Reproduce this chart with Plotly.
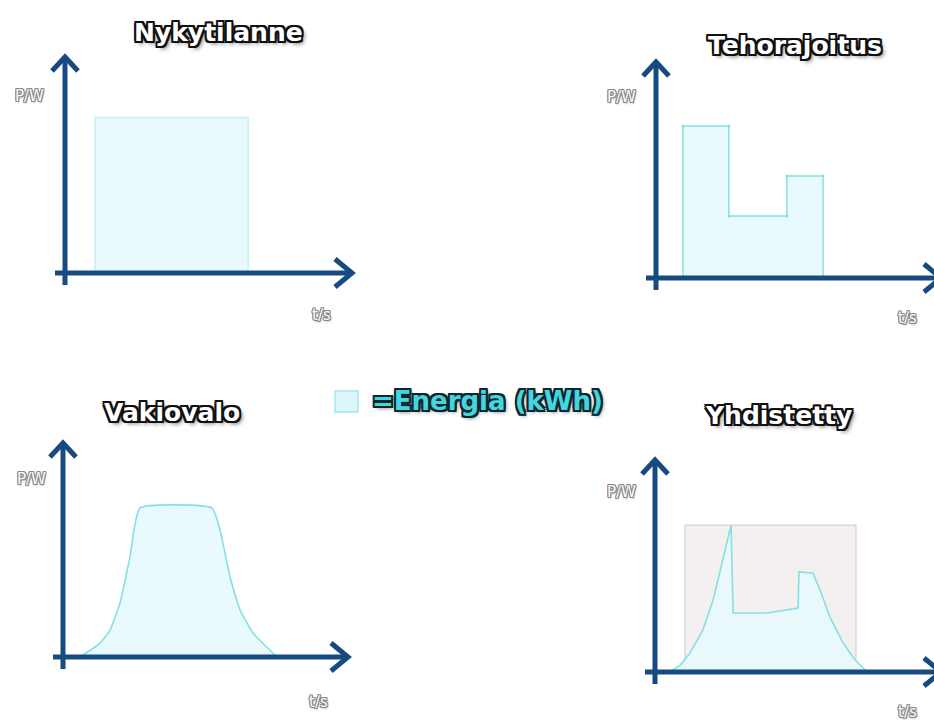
import plotly.graph_objects as go

W, H = 934, 724

# ---------------- data (t in arbitrary time units, P in arbitrary power units) ----------------
nyky_t = [1.05, 1.05, 6.38, 6.38]
nyky_p = [0, 7.2, 7.2, 0]

teho_t = [0.94, 0.94, 2.54, 2.54, 4.56, 4.56, 5.82, 5.82]
teho_p = [0, 7.04, 7.04, 2.87, 2.87, 4.72, 4.72, 0]

vakio_t = [0.6, 1.3, 1.65, 2.0, 2.35, 2.7, 5.23, 5.51, 5.86, 6.21, 6.67, 7.51]
vakio_p = [0, 0.65, 1.26, 2.52, 4.67, 6.96, 6.96, 5.93, 3.74, 2.2, 1.12, 0]

yhd_t = [0.53, 0.9, 1.23, 1.68, 2.04, 2.39, 2.67, 2.74, 3.93, 5.02, 5.05, 5.54, 5.79, 6.14, 6.6, 7.0, 7.44]
yhd_p = [0, 0.35, 0.9, 1.98, 3.4, 5.3, 6.93, 2.78, 2.78, 3.02, 4.72, 4.67, 3.87, 2.59, 1.37, 0.6, 0]

ref_t = [1.05, 1.05, 7.05, 7.05]
ref_p = [0, 6.93, 6.93, 0]

titles = ["Nykytilanne", "Tehorajoitus", "Vakiovalo", "Yhdistetty"]
y_label = "P/W"
x_label = "t/s"
legend_label = "=Energia (kWh)"

# ---------------- styling ----------------
AX_COL = "#164a80"
LINE_COL = "#86dfe4"
FILL_COL = "rgba(228,249,253,0.85)"
TITLE_FONT = "DejaVu Sans"

# panels: origin px (ox, oy), x-arrow tip px, y-arrow tip px, x range max
panels = [
    dict(ox=65, oy=273, xt=352, yt=57, xmax=10.0),
    dict(ox=656, oy=278, xt=941, yt=62, xmax=(W - 656) / 28.7),
    dict(ox=63, oy=657, xt=348, yt=443, xmax=10.0),
    dict(ox=655, oy=672, xt=941, yt=460, xmax=(W - 655) / 28.5),
]

def px(x):
    return x / W

def py(y):
    return 1 - y / H

fig = go.Figure()
layout_axes = {}
for i, p in enumerate(panels, start=1):
    right = min(p["xt"], W)
    xa = dict(domain=[px(p["ox"]), px(right)], range=[0, p["xmax"]],
              visible=False, fixedrange=True, anchor=f"y{i}")
    ya = dict(domain=[py(p["oy"]), py(p["yt"])], range=[0, 10],
              visible=False, fixedrange=True, anchor=f"x{i}")
    layout_axes["xaxis" if i == 1 else f"xaxis{i}"] = xa
    layout_axes["yaxis" if i == 1 else f"yaxis{i}"] = ya

def ax(i):
    return ("x" if i == 1 else f"x{i}"), ("y" if i == 1 else f"y{i}")

# panel 1
x, y = ax(1)
fig.add_trace(go.Scatter(x=nyky_t, y=nyky_p, xaxis=x, yaxis=y, mode="lines",
                         line=dict(color="#c4eff4", width=1.5), fill="toself",
                         fillcolor=FILL_COL, showlegend=False, hoverinfo="skip"))
# panel 2
x, y = ax(2)
fig.add_trace(go.Scatter(x=teho_t, y=teho_p, xaxis=x, yaxis=y, mode="lines+markers",
                         line=dict(color=LINE_COL, width=1.5),
                         marker=dict(size=3, color=LINE_COL), fill="toself",
                         fillcolor=FILL_COL, showlegend=False, hoverinfo="skip"))
# panel 3
x, y = ax(3)
fig.add_trace(go.Scatter(x=vakio_t, y=vakio_p, xaxis=x, yaxis=y, mode="lines",
                         line=dict(color=LINE_COL, width=1.6, shape="spline", smoothing=0.45),
                         fill="tozeroy", fillcolor=FILL_COL, showlegend=False, hoverinfo="skip"))
# panel 4
x, y = ax(4)
fig.add_trace(go.Scatter(x=ref_t, y=ref_p, xaxis=x, yaxis=y, mode="lines",
                         line=dict(color="#d9d0ce", width=1.2), fill="toself",
                         fillcolor="#f4f0ef", showlegend=False, hoverinfo="skip"))
fig.add_trace(go.Scatter(x=yhd_t, y=yhd_p, xaxis=x, yaxis=y, mode="lines",
                         line=dict(color=LINE_COL, width=1.6),
                         fill="tozeroy", fillcolor="rgba(230,249,252,0.92)",
                         showlegend=False, hoverinfo="skip"))

# axis arrows
shapes = []
def path(points):
    return "M " + " L ".join(f"{px(a):.5f},{py(b):.5f}" for a, b in points)

for p in panels:
    ox, oy, xt, yt = p["ox"], p["oy"], p["xt"], p["yt"]
    for pts in (
        [(ox, oy + 12), (ox, yt)],
        [(ox - 13, yt + 14), (ox, yt), (ox + 13, yt + 14)],
        [(ox - 10, oy), (xt, oy)],
        [(xt - 17, oy - 14), (xt, oy), (xt - 17, oy + 14)],
    ):
        shapes.append(dict(type="path", xref="paper", yref="paper", path=path(pts),
                           line=dict(color=AX_COL, width=5)))

# legend square
shapes.append(dict(type="rect", xref="paper", yref="paper",
                   x0=px(335), x1=px(358), y0=py(412), y1=py(391),
                   fillcolor="#dcf6fb", line=dict(color="#a4e8f0", width=1.5)))

def outline(col, w=2, blur=""):
    offs = []
    for dx in (-w, 0, w):
        for dy in (-w, 0, w):
            if dx or dy:
                offs.append(f"{dx}px {dy}px 0 {col}")
    if blur:
        offs.append(blur)
    return ", ".join(offs)

annotations = []
title_pos = [(218, 32), (795, 45), (172, 413), (778, 415)]
for t, (cx, cy) in zip(titles, title_pos):
    annotations.append(dict(text=t, x=px(cx), y=py(cy), xref="paper", yref="paper",
                            showarrow=False, xanchor="center", yanchor="middle",
                            font=dict(family=TITLE_FONT, size=25, color="white", weight="bold",
                                      shadow=outline("#111", 2, "3px 3px 4px #777"))))
pw_pos = [(29, 96), (621, 97), (31, 479), (621, 492)]
ts_pos = [(321, 315), (907, 318), (318, 702), (907, 712)]
small_font = dict(family=TITLE_FONT, size=15, color="#fafafa",
                  shadow=outline("#8a8a8a", 1, "1px 2px 2px #bbb"))
for (a, b) in pw_pos:
    annotations.append(dict(text=y_label, x=px(a), y=py(b), xref="paper", yref="paper",
                            showarrow=False, xanchor="center", yanchor="middle", font=small_font))
for (a, b) in ts_pos:
    annotations.append(dict(text=x_label, x=px(a), y=py(b), xref="paper", yref="paper",
                            showarrow=False, xanchor="center", yanchor="middle", font=small_font))
annotations.append(dict(text=legend_label, x=px(370), y=py(401), xref="paper", yref="paper",
                        showarrow=False, xanchor="left", yanchor="middle",
                        font=dict(family=TITLE_FONT, size=26, color="#45d6dd", weight="bold",
                                  shadow=outline("#0b2630", 2, "2px 2px 4px #666"))))

fig.update_layout(width=W, height=H, margin=dict(l=0, r=0, t=0, b=0),
                  paper_bgcolor="white", plot_bgcolor="rgba(0,0,0,0)",
                  shapes=shapes, annotations=annotations, showlegend=False,
                  **layout_axes)

fig.write_html("out.html", config={"displayModeBar": False},
               post_script="document.body.style.margin='0';document.body.style.overflow='hidden';")
